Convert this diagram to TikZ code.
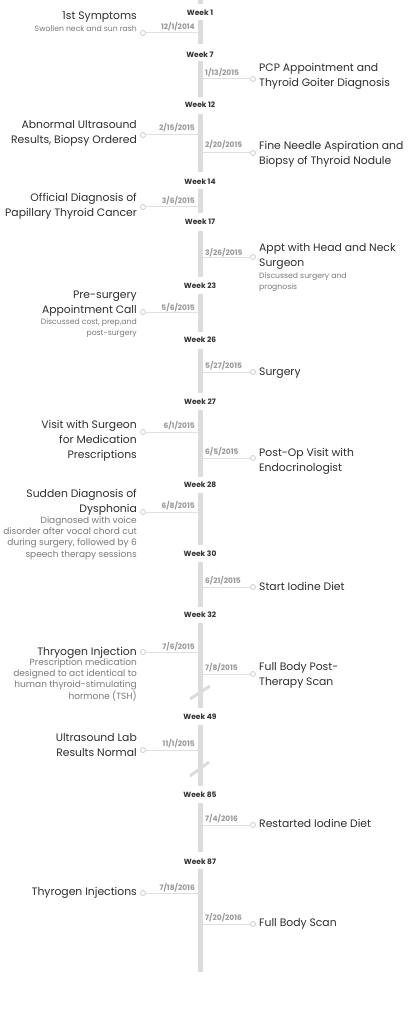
\documentclass[tikz,border=0pt]{standalone}
\usepackage{fontspec}
\setmainfont{Poppins}
\definecolor{barc}{HTML}{DCDCDC}
\definecolor{linec}{HTML}{E0E0E0}
\definecolor{dotc}{HTML}{CCCCCC}
\definecolor{titlec}{HTML}{2E2E2E}
\definecolor{subc}{HTML}{7A7A7A}
\definecolor{datec}{HTML}{999999}
\definecolor{weekc}{HTML}{333333}
\tikzset{
  bar/.style={draw=barc, line width=5pt},
  brk/.style={draw=barc, line width=3pt},
  week/.style={font=\fontsize{7.5}{9}\selectfont\bfseries, text=weekc, inner sep=0pt},
  datelbl/.style={font=\fontsize{7.5}{8}\selectfont\bfseries, text=datec, inner sep=0pt},
  ttl/.style={font=\fontsize{10.8}{15}\selectfont, text=titlec, inner sep=0pt},
  subt/.style={font=\fontsize{7.7}{11}\selectfont, text=subc, inner sep=0pt},
  subbig/.style={font=\fontsize{9}{11.2}\selectfont, text=subc, inner sep=0pt},
  dot/.style={circle, draw=dotc, fill=white, line width=0.8pt, minimum size=5pt, inner sep=0pt},
  conn/.style={draw=linec, line width=1pt}
}
% event: name, line y, date, date y, title, title last-line y
\newcommand\evL[6]{%
  \coordinate (#1b) at (200.5,#2);
  \node[dot] (#1c) at (143,#2) {};
  \draw[conn] (#1c) -- (#1b);
  \node[datelbl, anchor=base east] (#1d) at (195,#4+2.6) {#3};
  \node[ttl, align=right, anchor=base east] (#1t) at (137,#6+3.6) {#5};
}
\newcommand\evR[6]{%
  \coordinate (#1b) at (200.5,#2);
  \node[dot] (#1c) at (253,#2) {};
  \draw[conn] (#1b) -- (#1c);
  \node[datelbl, anchor=base west] (#1d) at (205,#4+2.6) {#3};
  \node[ttl, align=left, anchor=base west] (#1t) at (259,#6+3.6) {#5};
}
\begin{document}
\begin{tikzpicture}[x=1pt,y=-1pt]
\useasboundingbox[fill=white] (0,0) rectangle (410,1024);

\evL{e1}{33}{12/1/2014}{27}{1st Symptoms}{16}
\node[subt, align=right, anchor=base east] (e1s) at (137,29+2.6) {Swollen neck and sun rash};
\evR{e2}{79}{1/13/2015}{73}{PCP Appointment and\\Thyroid Goiter Diagnosis}{83}
\evL{e3}{135}{2/15/2015}{128}{Abnormal Ultrasound\\Results, Biopsy Ordered}{140}
\evR{e4}{153}{2/20/2015}{145}{Fine Needle Aspiration and\\Biopsy of Thyroid Nodule}{161}
\evL{e5}{207}{3/6/2015}{201}{Official Diagnosis of\\Papillary Thyroid Cancer}{213}
\evR{e6}{257}{3/26/2015}{253}{Appt with Head and Neck\\Surgeon}{263}
\node[subt, align=left, anchor=base west] (e6s) at (259,287+2.6) {Discussed surgery and\\prognosis};
\evL{e7}{312}{5/6/2015}{308}{Pre-surgery\\Appointment Call}{310}
\node[subt, align=right, anchor=base east] (e7s) at (137,333+2.6) {Discussed cost, prep,and\\post-surgery};
\evR{e8}{372}{5/27/2015}{366}{Surgery}{372}
\evL{e9}{432}{6/1/2015}{426}{Visit with Surgeon\\for Medication\\Prescriptions}{455}
\evR{e10}{458}{6/5/2015}{452}{Post-Op Visit with\\Endocrinologist}{468}
\evL{e11}{512}{6/8/2015}{506}{Sudden Diagnosis of\\Dysphonia}{509}
\node[subbig, align=right, anchor=base east] (e11s) at (137,554+3) {Diagnosed with voice\\disorder after vocal chord cut\\during surgery, followed by 6\\speech therapy sessions};
\evR{e12}{587}{6/21/2015}{581}{Start Iodine Diet}{587}
\evL{e13}{652}{7/6/2015}{647}{Thryogen Injection}{652}
\node[subbig, align=right, anchor=base east] (e13s) at (137,696+3) {Prescription medication\\designed to act identical to\\human thyroid-stimulating\\hormone (TSH)};
\evR{e14}{674}{7/8/2015}{668}{Full Body Post-\\Therapy Scan}{682}
\evL{e15}{750}{11/1/2015}{744}{Ultrasound Lab\\Results Normal}{753}
\evR{e16}{825}{7/4/2016}{819}{Restarted Iodine Diet}{824}
\evL{e17}{893}{7/18/2016}{888}{Thyrogen Injections}{892}
\evR{e18}{924}{7/20/2016}{918}{Full Body Scan}{923}

% week labels
\foreach \n/\y in {1/13,7/55,12/105,14/182,17/222,23/286,26/340,27/402,28/485,30/554,32/615,49/717,85/795,87/862}
  \node[week, anchor=base] (w\n) at (200,\y+2.7) {Week \n};

% bar segments
\foreach \a/\b in {0/4,20/44,61/97,114/172,189/213,231/277,294/332,349/393,410/477,493/545,562/607,623/708,725/786,803/852,869/972}
  \draw[bar] (200.5,\a) -- (200.5,\b);

% breaks
\draw[brk] (190,699) -- (210,686);
\draw[brk] (190,776) -- (209,762);
\end{tikzpicture}
\end{document}
